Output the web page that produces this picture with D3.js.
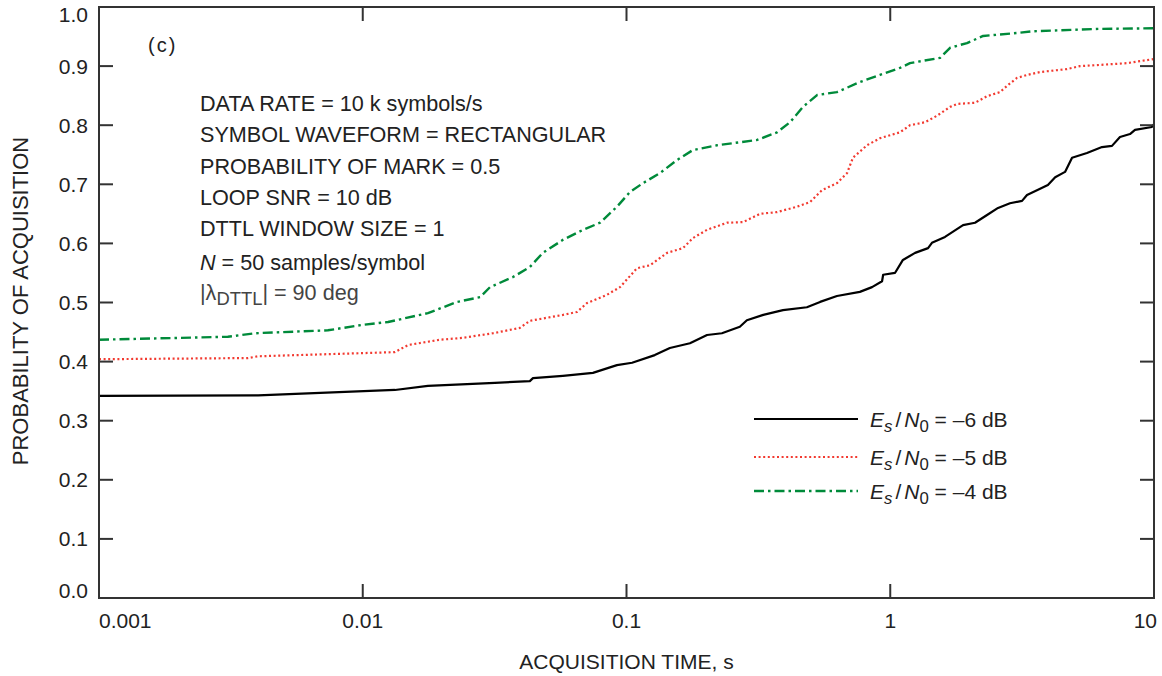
<!DOCTYPE html>
<html><head><meta charset="utf-8">
<script src="https://cdn.jsdelivr.net/npm/d3@7"></script>
<style>
body{margin:0;background:#fff}
text{font-family:"Liberation Sans",Arial,Helvetica,sans-serif;fill:#222}
</style>
</head><body>
<svg id="chart" width="1162" height="676"></svg>
<script>
// ---------- data ----------
const xTickValues = [0.001, 0.01, 0.1, 1, 10];
const xTickLabels = ["0.001", "0.01", "0.1", "1", "10"];
const yTickValues = [0, 0.1, 0.2, 0.3, 0.4, 0.5, 0.6, 0.7, 0.8, 0.9, 1.0];
const yTickLabels = ["0.0","0.1","0.2","0.3","0.4","0.5","0.6","0.7","0.8","0.9","1.0"];

// Es/N0 = -6 dB (solid black)
const tM6 = [0.001,0.00401,0.01324,0.01766,0.0317,0.0430,0.0442,0.0574,0.0746,0.0920,0.105,0.128,0.146,0.174,0.202,0.230,0.269,0.286,0.330,0.392,0.483,0.542,0.628,0.767,0.853,0.931,0.940,1.042,1.117,1.242,1.391,1.439,1.613,1.888,2.096,2.328,2.563,2.844,3.16,3.30,3.60,3.96,4.22,4.60,4.89,5.57,6.35,6.93,7.43,8.11,8.47,9.82,10];
const pM6 = [0.342,0.343,0.352,0.359,0.364,0.367,0.372,0.376,0.381,0.394,0.398,0.411,0.423,0.431,0.445,0.448,0.459,0.470,0.479,0.487,0.492,0.501,0.511,0.518,0.526,0.536,0.547,0.550,0.572,0.584,0.592,0.601,0.611,0.631,0.635,0.648,0.660,0.668,0.672,0.682,0.690,0.699,0.712,0.721,0.745,0.753,0.763,0.765,0.780,0.785,0.792,0.797,0.802];

// Es/N0 = -5 dB (red dotted)
const tM5 = [0.001,0.00367,0.00401,0.01324,0.01485,0.01963,0.02378,0.0312,0.0394,0.0430,0.0574,0.0649,0.0708,0.0843,0.0945,0.1096,0.1228,0.1425,0.1637,0.1786,0.202,0.2405,0.2766,0.3208,0.3724,0.4427,0.4966,0.551,0.628,0.686,0.722,0.816,0.914,1.089,1.188,1.355,1.504,1.686,1.792,2.096,2.328,2.607,2.795,3.025,3.30,3.70,4.68,5.24,6.24,7.90,10];
const pM5 = [0.404,0.406,0.409,0.416,0.428,0.437,0.440,0.448,0.457,0.469,0.479,0.484,0.499,0.513,0.526,0.558,0.563,0.584,0.592,0.609,0.623,0.635,0.636,0.650,0.653,0.662,0.670,0.690,0.702,0.719,0.745,0.766,0.778,0.788,0.800,0.805,0.816,0.831,0.836,0.838,0.849,0.856,0.868,0.880,0.885,0.890,0.895,0.900,0.902,0.905,0.912];

// Es/N0 = -4 dB (green dash-dot)
const tM4 = [0.001,0.00308,0.00390,0.00738,0.00993,0.01247,0.01766,0.02277,0.02785,0.03037,0.0371,0.0430,0.0482,0.0574,0.0684,0.0794,0.0920,0.1031,0.1155,0.1340,0.1554,0.1786,0.2203,0.3125,0.3724,0.4169,0.4667,0.5277,0.628,0.767,0.914,1.089,1.188,1.545,1.686,1.954,2.249,3.025,3.475,6.24,10];
const pM4 = [0.437,0.442,0.448,0.453,0.462,0.467,0.482,0.501,0.509,0.526,0.543,0.560,0.584,0.606,0.623,0.635,0.662,0.687,0.702,0.719,0.741,0.758,0.766,0.775,0.788,0.805,0.831,0.851,0.856,0.873,0.885,0.897,0.905,0.914,0.931,0.939,0.951,0.956,0.959,0.963,0.964];

const seriesNames = ["\u20136 dB", "\u20135 dB", "\u20134 dB"];
const annotationLines = ["DATA RATE = 10 k symbols/s","SYMBOL WAVEFORM = RECTANGULAR","PROBABILITY OF MARK = 0.5","LOOP SNR = 10 dB","DTTL WINDOW SIZE = 1"];

// ---------- layout ----------
const svg = d3.select("#chart");
const L = 99, T = 7, R = 1154, B = 598;
const FS = 21;
const x = d3.scaleLog().domain([0.001, 10]).range([L, R]);
const y = d3.scaleLinear().domain([0, 1]).range([B, T]);

const series = [
  {t: tM6, p: pM6, color: "#000000", width: 2.2, dash: null, name: seriesNames[0]},
  {t: tM5, p: pM5, color: "#f23a30", width: 2.2, dash: "2,2.6", name: seriesNames[1]},
  {t: tM4, p: pM4, color: "#008a3a", width: 2.4, dash: "10,4,2.5,4", name: seriesNames[2]}
];

svg.append("clipPath").attr("id","clip").append("rect")
  .attr("x", L).attr("y", T).attr("width", R - L).attr("height", B - T);

const line = d3.line().x(d => x(d[0])).y(d => y(d[1]));
const g = svg.append("g").attr("clip-path","url(#clip)");
series.forEach(s => {
  g.append("path")
    .datum(s.t.map((v, i) => [v, s.p[i]]))
    .attr("d", line)
    .attr("fill","none")
    .attr("stroke", s.color)
    .attr("stroke-width", s.width)
    .attr("stroke-dasharray", s.dash)
    .attr("stroke-linejoin","round");
});

// frame
const axisColor = "#333";
svg.append("rect").attr("x", L).attr("y", T).attr("width", R - L).attr("height", B - T)
  .attr("fill","none").attr("stroke", axisColor).attr("stroke-width", 2);

// y ticks (left & right, inward)
const TL = 14;
yTickValues.forEach((v, i) => {
  if (v > 0 && v < 1) {
    svg.append("line").attr("x1", L).attr("x2", L + TL).attr("y1", y(v)).attr("y2", y(v))
      .attr("stroke", axisColor).attr("stroke-width", 2);
    svg.append("line").attr("x1", R - TL).attr("x2", R).attr("y1", y(v)).attr("y2", y(v))
      .attr("stroke", axisColor).attr("stroke-width", 2);
  }
  let yy = y(v) + 7.5;
  if (v === 1) yy = y(v) + 14.5;
  if (v === 0) yy = y(v);
  svg.append("text").attr("x", L - 11).attr("y", yy)
    .attr("text-anchor","end").attr("font-size", FS).text(yTickLabels[i]);
});

// x ticks (bottom & top, inward)
xTickValues.forEach((v, i) => {
  if (v > 0.001 && v < 10) {
    svg.append("line").attr("x1", x(v)).attr("x2", x(v)).attr("y1", B).attr("y2", B - TL)
      .attr("stroke", axisColor).attr("stroke-width", 2);
    svg.append("line").attr("x1", x(v)).attr("x2", x(v)).attr("y1", T).attr("y2", T + TL)
      .attr("stroke", axisColor).attr("stroke-width", 2);
  }
  const anchor = i === 0 ? "start" : (i === xTickValues.length - 1 ? "end" : "middle");
  const dx = i === 0 ? 0 : (i === xTickValues.length - 1 ? 3 : 0);
  svg.append("text").attr("x", x(v) + dx).attr("y", 628)
    .attr("text-anchor", anchor).attr("font-size", FS).text(xTickLabels[i]);
});

// axis titles
svg.append("text").attr("x", (L + R) / 2).attr("y", 669).attr("text-anchor","middle")
  .attr("font-size", FS).text("ACQUISITION TIME, s");
svg.append("text").attr("transform","translate(28,301) rotate(-90)").attr("text-anchor","middle")
  .attr("font-size", 22).text("PROBABILITY OF ACQUISITION");

// panel label
svg.append("text").attr("x", 148).attr("y", 52).attr("font-size", 20)
  .attr("letter-spacing", 2).text("(c)");

// annotations
annotationLines.forEach((s, i) => {
  svg.append("text").attr("x", 200).attr("y", 111 + i * 31.25).attr("font-size", 21.6).text(s);
});
const tN = svg.append("text").attr("x", 200).attr("y", 270).attr("font-size", 21.6);
tN.append("tspan").attr("font-style","italic").text("N");
tN.append("tspan").text(" = 50 samples/symbol");
const tL = svg.append("text").attr("x", 200).attr("y", 300).attr("font-size", 21.6).style("fill","#444");
tL.append("tspan").text("|\u03bb");
tL.append("tspan").attr("dy", 5).attr("font-size", 18.4).text("DTTL");
tL.append("tspan").attr("dy", -5).text("| = 90 deg");

// legend
const legY = [419, 457, 491];
series.forEach((s, i) => {
  svg.append("line").attr("x1", 754).attr("x2", 858).attr("y1", legY[i]).attr("y2", legY[i])
    .attr("stroke", s.color).attr("stroke-width", s.width).attr("stroke-dasharray", s.dash);
  const t = svg.append("text").attr("x", 870).attr("y", legY[i] + 8).attr("font-size", FS);
  t.append("tspan").attr("font-style","italic").text("E");
  t.append("tspan").attr("font-style","italic").attr("dy", 5).attr("font-size", FS * 0.8).text("s");
  t.append("tspan").attr("dy", -5).attr("dx", 3).text("/");
  t.append("tspan").attr("font-style","italic").attr("dx", 3).text("N");
  t.append("tspan").attr("dy", 5).attr("font-size", FS * 0.8).text("0");
  t.append("tspan").attr("dy", -5).text(" = " + s.name);
});
</script>
</body></html>
